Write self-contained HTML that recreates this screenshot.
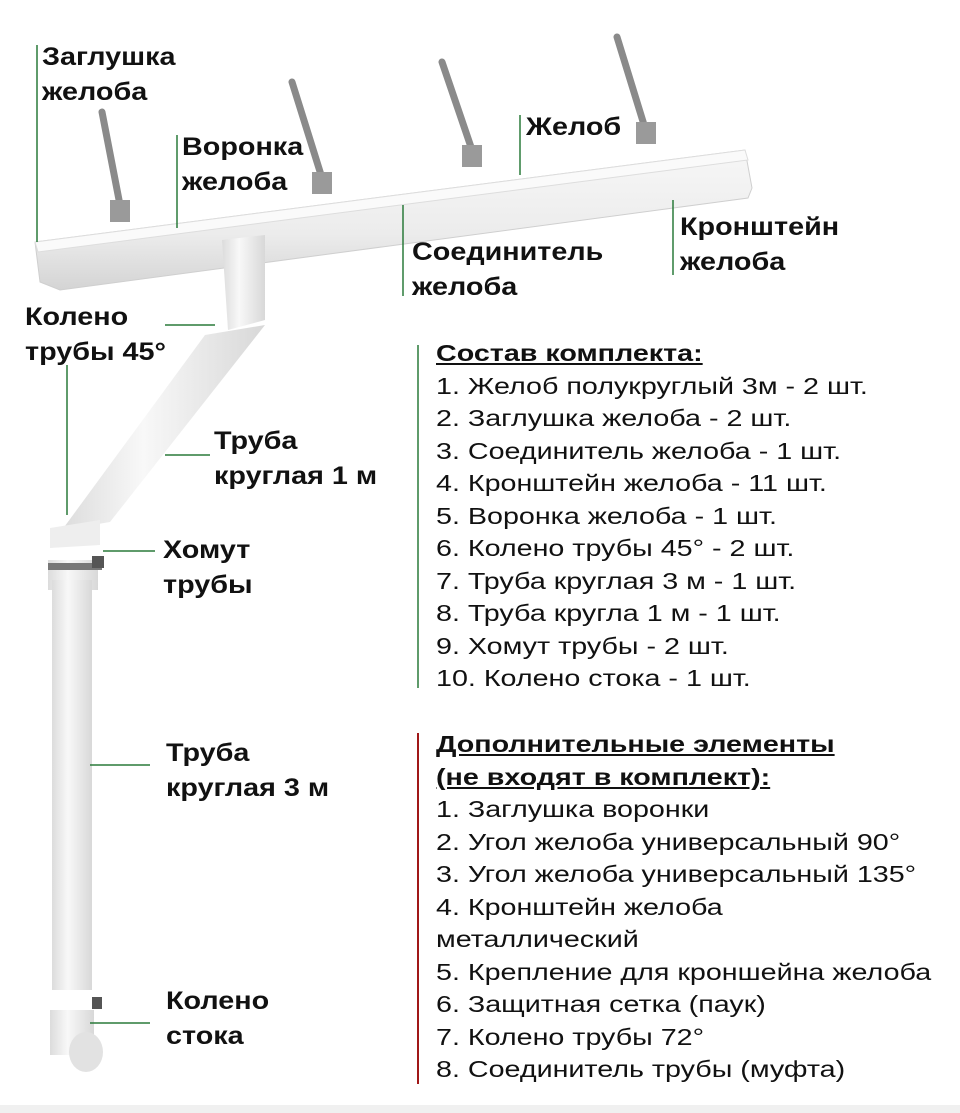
<!DOCTYPE html>
<html><head><meta charset="utf-8"><style>
body{margin:0;width:960px;height:1113px;background:#fff;position:relative;overflow:hidden;font-family:"Liberation Sans","DejaVu Sans",sans-serif;}
.l{position:absolute;font-weight:bold;font-size:25px;line-height:35px;color:#111;transform:scaleX(1.15);transform-origin:0 0;white-space:nowrap;}
.t{position:absolute;left:436px;font-size:23.5px;line-height:32.5px;color:#111;transform:scaleX(1.22);transform-origin:0 0;white-space:nowrap;}
.t b{text-decoration:underline;}
</style></head><body>
<svg width="960" height="1113" style="position:absolute;left:0;top:0">
<defs>
<linearGradient id="gv" x1="0" y1="0" x2="0" y2="1"><stop offset="0" stop-color="#f7f7f7"/><stop offset="0.6" stop-color="#ececec"/><stop offset="1" stop-color="#d4d4d4"/></linearGradient>
<linearGradient id="gh" x1="0" y1="0" x2="1" y2="0"><stop offset="0" stop-color="#dcdcdc"/><stop offset="0.4" stop-color="#f8f8f8"/><stop offset="1" stop-color="#d8d8d8"/></linearGradient>
</defs>
<g stroke="#8a8a8a" stroke-width="7" stroke-linecap="round">
<line x1="102" y1="112" x2="120" y2="205"/>
<line x1="292" y1="82" x2="322" y2="178"/>
<line x1="442" y1="62" x2="472" y2="150"/>
<line x1="617" y1="37" x2="645" y2="128"/>
</g>
<g fill="#9a9a9a">
<rect x="110" y="200" width="20" height="22"/><rect x="312" y="172" width="20" height="22"/><rect x="462" y="145" width="20" height="22"/><rect x="636" y="122" width="20" height="22"/>
</g>
<polygon points="35,242 745,150 752,188 748,198 60,290 40,282" fill="url(#gv)" stroke="#cfcfcf"/>
<polygon points="35,242 745,150 748,160 38,252" fill="#fafafa" stroke="#ddd"/>
<polygon points="222,240 265,235 265,320 228,330" fill="url(#gh)"/>
<polygon points="205,335 265,325 110,522 62,530" fill="url(#gh)"/>
<polygon points="50,528 100,520 100,545 50,548" fill="#eee"/>
<rect x="48" y="560" width="50" height="30" fill="url(#gh)"/>
<rect x="48" y="563" width="54" height="7" fill="#777"/>
<rect x="92" y="556" width="12" height="12" fill="#555"/>
<rect x="52" y="580" width="40" height="410" fill="url(#gh)"/>
<rect x="50" y="1010" width="44" height="45" fill="url(#gh)"/>
<rect x="92" y="997" width="10" height="12" fill="#555"/>
<ellipse cx="86" cy="1052" rx="17" ry="20" fill="#e2e2e2"/>
<g stroke="#2a7a3a" stroke-width="1.5">
<line x1="37" y1="45" x2="37" y2="242"/>
<line x1="177" y1="135" x2="177" y2="228"/>
<line x1="520" y1="115" x2="520" y2="175"/>
<line x1="673" y1="200" x2="673" y2="275"/>
<line x1="403" y1="205" x2="403" y2="296"/>
<line x1="165" y1="325" x2="215" y2="325"/>
<line x1="67" y1="365" x2="67" y2="515"/>
<line x1="165" y1="455" x2="210" y2="455"/>
<line x1="103" y1="551" x2="155" y2="551"/>
<line x1="90" y1="765" x2="150" y2="765"/>
<line x1="90" y1="1023" x2="150" y2="1023"/>
<line x1="418" y1="345" x2="418" y2="688"/>
</g>
<line x1="418" y1="733" x2="418" y2="1084" stroke="#a01818" stroke-width="2"/>
<rect x="0" y="1105" width="960" height="8" fill="#f0f0f0"/>
</svg>
<div class="l" style="left:42px;top:40px">Заглушка<br>желоба</div>
<div class="l" style="left:182px;top:130px">Воронка<br>желоба</div>
<div class="l" style="left:526px;top:110px">Желоб</div>
<div class="l" style="left:680px;top:210px">Кронштейн<br>желоба</div>
<div class="l" style="left:412px;top:235px">Соединитель<br>желоба</div>
<div class="l" style="left:25px;top:300px">Колено<br>трубы 45°</div>
<div class="l" style="left:214px;top:424px">Труба<br>круглая 1 м</div>
<div class="l" style="left:163px;top:533px">Хомут<br>трубы</div>
<div class="l" style="left:166px;top:736px">Труба<br>круглая 3 м</div>
<div class="l" style="left:166px;top:984px">Колено<br>стока</div>
<div class="t" style="top:337px"><b>Состав комплекта:</b><br>1. Желоб полукруглый 3м - 2 шт.<br>2. Заглушка желоба - 2 шт.<br>3. Соединитель желоба - 1 шт.<br>4. Кронштейн желоба - 11 шт.<br>5. Воронка желоба - 1 шт.<br>6. Колено трубы 45° - 2 шт.<br>7. Труба круглая 3 м - 1 шт.<br>8. Труба кругла 1 м - 1 шт.<br>9. Хомут трубы - 2 шт.<br>10. Колено стока - 1 шт.</div>
<div class="t" style="top:728px"><b>Дополнительные элементы<br>(не входят в комплект):</b><br>1. Заглушка воронки<br>2. Угол желоба универсальный 90°<br>3. Угол желоба универсальный 135°<br>4. Кронштейн желоба<br>металлический<br>5. Крепление для кроншейна желоба<br>6. Защитная сетка (паук)<br>7. Колено трубы 72°<br>8. Соединитель трубы (муфта)</div>
</body></html>
